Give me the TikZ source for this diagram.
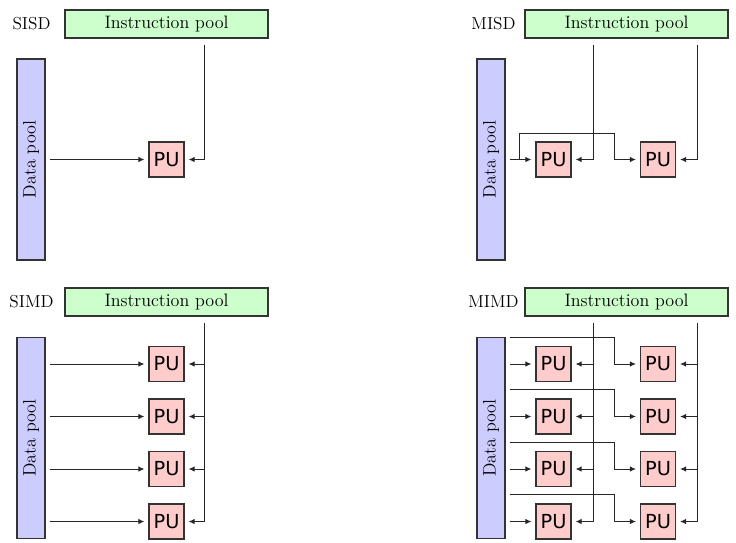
\documentclass[tikz,border=0pt]{standalone}
\usepackage{fontspec}
\newfontfamily\pufont{DejaVu Sans}
\usetikzlibrary{arrows.meta}
\definecolor{igreen}{HTML}{CCFFCC}
\definecolor{dblue}{HTML}{CCCCFF}
\definecolor{pupink}{HTML}{FFCCCC}
\definecolor{edge}{HTML}{333333}
\begin{document}
\begin{tikzpicture}[x=0.75pt,y=-0.75pt,
  txt/.style={font=\fontsize{13.5}{15}\selectfont},
  ipool/.style={draw=edge, line width=0.85pt, fill=igreen, minimum width=152.25pt, minimum height=21pt, inner sep=0pt, txt},
  dpool/.style={draw=edge, line width=0.85pt, fill=dblue, minimum width=150.75pt, minimum height=21pt, inner sep=0pt, rotate=90, txt},
  pu/.style={draw=edge, line width=0.8pt, fill=pupink, minimum size=26.25pt, inner sep=0pt, font=\pufont\fontsize{14.5}{16}\selectfont},
  lab/.style={inner sep=0pt, font=\fontsize{13}{15}\selectfont},
  conn/.style={line width=0.7pt, draw=black!85},
  arr/.style={conn, -{Latex[length=4.5pt,width=4pt]}, shorten >=3pt},
  istart/.style={shorten <=4.5pt}]
\useasboundingbox (0,0) rectangle (736,543);

% ---------- SISD ----------
\node[lab] (l1) at (31.5,24) {SISD};
\node[ipool] (ip1) at (166.5,24) {Instruction pool};
\node[dpool] (dp1) at (31,159.5) {Data pool};
\node[pu] (pu1) at (166.5,159.5) {PU};
\coordinate (i1) at (204,24);
\draw[arr, shorten <=3pt] (dp1.south |- pu1.west) -- (pu1.west);
\draw[arr, istart] (i1 |- ip1.south) |- (pu1.east);

% ---------- MISD ----------
\node[lab] (l2) at (493.5,24) {MISD};
\node[ipool] (ip2) at (626.5,24) {Instruction pool};
\node[dpool] (dp2) at (491,159.5) {Data pool};
\node[pu] (pu21) at (553.5,159.5) {PU};
\node[pu] (pu22) at (658,159.5) {PU};
\coordinate (i21) at (593,24);
\coordinate (i22) at (697,24);
\coordinate (b2) at (519,133);
\coordinate (m2) at (614,133);
\draw[arr, shorten <=3pt] (dp2.south |- pu21.west) -- (pu21.west);
\draw[arr] (b2 |- pu21.west) |- (m2) |- (pu22.west);
\draw[arr, istart] (i21 |- ip2.south) |- (pu21.east);
\draw[arr, istart] (i22 |- ip2.south) |- (pu22.east);

% ---------- SIMD ----------
\node[lab] (l3) at (31.5,302) {SIMD};
\node[ipool] (ip3) at (166.5,302) {Instruction pool};
\node[dpool] (dp3) at (31,438) {Data pool};
\foreach \k/\y in {1/364,2/416.5,3/469,4/521.5}{
  \node[pu] (pu3\k) at (166.5,\y) {PU};
}
\coordinate (i3) at (204,302);
\draw[conn, istart] (i3 |- ip3.south) -- (i3 |- pu34.east);
\foreach \k in {1,2,3,4}{
  \draw[arr, shorten <=3pt] (dp3.south |- pu3\k.west) -- (pu3\k.west);
  \draw[arr] (i3 |- pu3\k.east) -- (pu3\k.east);
}

% ---------- MIMD ----------
\node[lab] (l4) at (493.5,302) {MIMD};
\node[ipool] (ip4) at (626.5,302) {Instruction pool};
\node[dpool] (dp4) at (491,438) {Data pool};
\foreach \k/\y in {1/364,2/416.5,3/469,4/521.5}{
  \node[pu] (pu4\k a) at (553.5,\y) {PU};
  \node[pu] (pu4\k b) at (658,\y) {PU};
  \coordinate (m4\k) at (614,\y-27);
}
\coordinate (i41) at (593,302);
\coordinate (i42) at (697,302);
\draw[conn, istart] (i41 |- ip4.south) -- (i41 |- pu44a.east);
\draw[conn, istart] (i42 |- ip4.south) -- (i42 |- pu44b.east);
\foreach \k in {1,2,3,4}{
  \draw[arr, shorten <=3pt] (dp4.south |- pu4\k a.west) -- (pu4\k a.west);
  \draw[arr, shorten <=3pt] (dp4.south |- m4\k) -- (m4\k) |- (pu4\k b.west);
  \draw[arr] (i41 |- pu4\k a.east) -- (pu4\k a.east);
  \draw[arr] (i42 |- pu4\k b.east) -- (pu4\k b.east);
}
\end{tikzpicture}
\end{document}
